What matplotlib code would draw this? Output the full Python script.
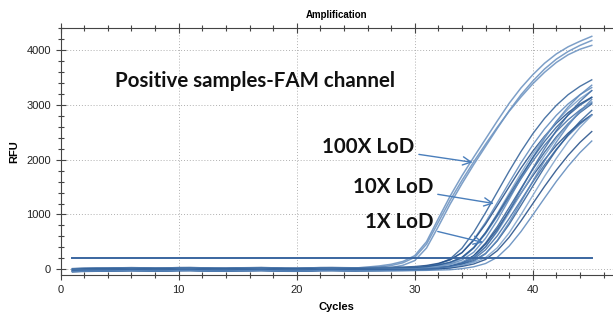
import numpy as np
import matplotlib
matplotlib.use("Agg")
import matplotlib.pyplot as plt
from matplotlib.ticker import MultipleLocator

#
##  Data (RFU per cycle)
#
cycles = list(range(1, 46))
threshold = 200

# shared flat baseline, cycles 1-25
baseline = [-15, -8, -5, -4, 0, 3, 0, -4, -2, 4, 5, 0, -4, -5, 0, 2, 5, 0, -5, -6, -2, 4, 5, 2, 0]

# small per-well baseline offsets
offsets = [25, -20, 10, -25, 15, 30, -10, 20, -30, 5, -15, 25, -5, 10, -20, 0, 15, -10, 20, -25]

# cycles 26-45, 100X LoD wells
rfu_100x = [
    [18, 38, 68, 120, 225, 480, 900, 1310, 1680, 2020, 2350, 2680, 3000, 3280, 3520, 3730, 3900, 4030, 4130, 4220],
    [12, 28, 52, 95, 180, 410, 800, 1210, 1580, 1930, 2260, 2590, 2910, 3200, 3450, 3670, 3850, 3990, 4100, 4190],
    [15, 33, 60, 110, 210, 450, 850, 1250, 1610, 1950, 2270, 2580, 2870, 3130, 3370, 3580, 3760, 3900, 4000, 4070],
]

# cycles 26-45, 10X LoD wells
rfu_10x = [
    [4, 6, 11, 16, 32, 65, 119, 216, 410, 702, 1058, 1436, 1814, 2171, 2495, 2776, 3013, 3208, 3359, 3478],
    [3, 5, 8, 12, 23, 45, 85, 156, 291, 530, 842, 1201, 1565, 1924, 2252, 2543, 2792, 3000, 3167, 3297],
    [3, 5, 8, 12, 22, 42, 80, 147, 274, 500, 794, 1132, 1475, 1813, 2122, 2396, 2631, 2827, 2984, 3107],
]

# cycles 26-45, 1X LoD wells
rfu_1x = [
    [2, 4, 6, 11, 16, 32, 63, 116, 210, 399, 683, 1029, 1397, 1764, 2111, 2426, 2699, 2930, 3119, 3266],
    [2, 4, 6, 10, 15, 29, 58, 107, 194, 369, 631, 951, 1290, 1630, 1950, 2241, 2493, 2706, 2881, 3017],
    [1, 3, 5, 8, 12, 22, 43, 82, 150, 280, 510, 810, 1155, 1505, 1850, 2165, 2445, 2685, 2885, 3045],
    [1, 3, 6, 9, 13, 24, 47, 90, 165, 308, 561, 891, 1271, 1656, 2035, 2382, 2690, 2954, 3174, 3350],
    [1, 3, 5, 7, 11, 20, 40, 76, 140, 260, 474, 753, 1074, 1400, 1721, 2013, 2274, 2497, 2683, 2832],
    [1, 2, 4, 6, 10, 15, 31, 61, 112, 204, 388, 663, 1000, 1357, 1714, 2050, 2356, 2621, 2846, 3029],
    [1, 2, 4, 6, 10, 14, 29, 57, 105, 190, 361, 618, 931, 1264, 1596, 1910, 2195, 2442, 2651, 2822],
    [1, 2, 3, 5, 8, 12, 22, 43, 82, 150, 280, 510, 810, 1155, 1505, 1850, 2165, 2445, 2685, 2885],
    [1, 2, 3, 5, 9, 13, 24, 46, 89, 162, 302, 551, 875, 1247, 1625, 1998, 2338, 2641, 2900, 3116],
    [1, 2, 3, 4, 5, 9, 14, 27, 54, 99, 180, 342, 585, 882, 1197, 1512, 1809, 2079, 2313, 2511],
    [1, 2, 3, 4, 6, 10, 15, 30, 60, 110, 200, 380, 650, 980, 1330, 1680, 2010, 2310, 2570, 2790],
    [1, 2, 4, 7, 11, 17, 33, 66, 121, 220, 418, 715, 1078, 1463, 1848, 2211, 2541, 2827, 3069, 3267],
    [2, 4, 6, 10, 15, 30, 60, 110, 200, 380, 650, 980, 1330, 1680, 2010, 2310, 2570, 2790, 2970, 3110],
    [1, 1, 2, 3, 4, 7, 13, 19, 38, 72, 132, 246, 449, 713, 1016, 1324, 1628, 1905, 2152, 2363],
]

# annotation labels: text, arrow tip (cycle, RFU), text anchor (cycle, RFU)
labels = ["100X LoD", "10X LoD", "1X LoD"]
tips = [(34.9, 1950), (36.7, 1200), (35.8, 490)]
anchors = [(30.0, 2230), (31.6, 1500), (31.6, 860)]

colours = ["#2d5d96", "#5a86ba", "#1f4b86", "#7a9fc9", "#3d6ba4"]
light = "#6f95c2"

#
##  Plot
#
fig = plt.figure(figsize=(6.13, 3.2), dpi=100)
ax = fig.add_axes([0.099, 0.141, 0.901, 0.772])

for i, late in enumerate(rfu_100x):
    y = np.array(baseline + late, dtype=float) + offsets[i]
    ax.plot(cycles, y, color=light, lw=1.1, alpha=0.9, zorder=3)

for i, late in enumerate(rfu_10x + rfu_1x):
    y = np.array(baseline + late, dtype=float) + offsets[(i + 3) % len(offsets)]
    ax.plot(cycles, y, color=colours[i % len(colours)], lw=1.0, alpha=0.85, zorder=3)

ax.plot([cycles[0], cycles[-1]], [threshold, threshold], color="#3a66a0", lw=1.4, zorder=4)

ax.set_xlim(0, 46.8)
ax.set_ylim(-100, 4400)
ax.xaxis.set_major_locator(MultipleLocator(10))
ax.xaxis.set_minor_locator(MultipleLocator(2))
ax.yaxis.set_major_locator(MultipleLocator(1000))
ax.yaxis.set_minor_locator(MultipleLocator(200))
ax.tick_params(which="both", direction="inout", colors="#444444", labelcolor="#222222",
               labelsize=8, top=True)
ax.tick_params(which="major", length=7, width=0.8)
ax.tick_params(which="minor", length=5, width=0.8)
ax.tick_params(axis="x", which="both", labeltop=False)
for lab in ax.get_xticklabels() + ax.get_yticklabels():
    lab.set_family("Liberation Sans")
ax.grid(True, which="major", linestyle=(0, (1, 2)), color="#b0b0b0", lw=0.7)
ax.spines["right"].set_visible(False)
for s in ["left", "bottom", "top"]:
    ax.spines[s].set_color("#444444")
    ax.spines[s].set_linewidth(0.8)

ax.set_title("Amplification", fontsize=7, fontweight="bold", family="Liberation Sans", pad=7)
ax.set_xlabel("Cycles", fontsize=8, fontweight="bold", family="Liberation Sans", labelpad=5)
ax.set_ylabel("RFU", fontsize=8, fontweight="bold", family="Liberation Sans", labelpad=5)

ax.text(4.6, 3430, "Positive samples-FAM channel", fontsize=14.8, family="Lato",
        fontweight="bold", color="#111111", va="center", ha="left")
for txt, tip, anc in zip(labels, tips, anchors):
    ax.annotate(txt, xy=tip, xytext=anc, fontsize=14.8, family="Lato", fontweight="bold",
                color="#111111", ha="right", va="center",
                arrowprops=dict(arrowstyle="->", color="#4a7ebb", lw=1.0, shrinkA=1, shrinkB=0))

fig.savefig("out.png", dpi=100)
